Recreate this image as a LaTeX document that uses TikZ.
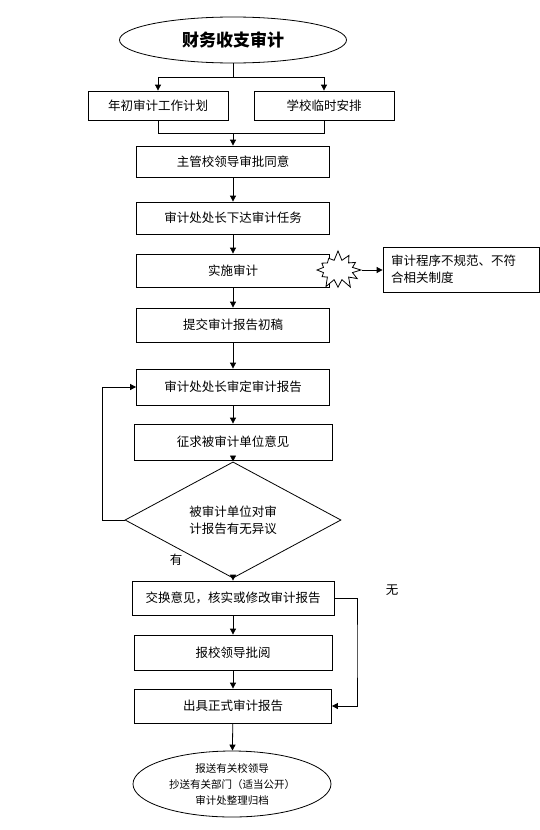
\documentclass[tikz,border=0pt]{standalone}
\usepackage{fontspec}
\setmainfont{Noto Sans CJK SC}
\usetikzlibrary{shapes.geometric,shapes.symbols,arrows.meta}
\begin{document}
\begin{tikzpicture}[x=1pt,y=-1pt,
  box/.style={draw, line width=0.8pt, inner sep=0pt, align=center, font=\fontsize{12.5}{17}\selectfont},
  arr/.style={line width=0.8pt,-{Triangle[length=6pt,width=6pt]}},
  ln/.style={line width=0.8pt}]
\useasboundingbox (0,0) rectangle (540,830);
% nodes
\node[box, ellipse, minimum width=227pt, minimum height=46pt, font=\fontsize{17}{20}\selectfont\bfseries] (top) at (233,40) {财务收支审计};
\node[box, minimum width=140pt, minimum height=29pt] (b1) at (158,105.5) {年初审计工作计划};
\node[box, minimum width=140pt, minimum height=29pt] (b2) at (324,105.5) {学校临时安排};
\node[box, minimum width=193pt, minimum height=31pt] (b3) at (233,161.5) {主管校领导审批同意};
\node[box, minimum width=193pt, minimum height=32pt] (b4) at (233,218) {审计处处长下达审计任务};
\node[box, minimum width=193pt, minimum height=33pt] (b5) at (233,270.5) {实施审计};
\node[box, minimum width=156pt, minimum height=45pt, text width=140pt, align=left] (side) at (461,269.5) {审计程序不规范、不符\\合相关制度};
\node[box, minimum width=193pt, minimum height=34pt] (b6) at (233,325) {提交审计报告初稿};
\node[box, minimum width=193pt, minimum height=36pt] (b7) at (233,387) {审计处处长审定审计报告};
\node[box, minimum width=198pt, minimum height=36pt] (b8) at (233,442) {征求被审计单位意见};
\node[box, diamond, minimum width=216pt, minimum height=86pt] (dia) at (233,520) {被审计单位对审\\计报告有无异议};
\node[box, minimum width=202pt, minimum height=34pt] (b9) at (233,598) {交换意见，核实或修改审计报告};
\node[box, minimum width=198pt, minimum height=35pt] (b10) at (233,652.5) {报校领导批阅};
\node[box, minimum width=197pt, minimum height=34pt] (b11) at (233,706) {出具正式审计报告};
\node[box, ellipse, minimum width=198pt, minimum height=66pt, font=\fontsize{10.5}{16}\selectfont] (end) at (232,784) {报送有关校领导\\抄送有关部门（适当公开）\\审计处整理归档};
\node[draw, fill=white, line width=0.8pt, starburst, starburst points=12, starburst point height=10pt, random starburst=7, minimum width=50pt, minimum height=40pt, inner sep=0pt] (star) at (338,270) {};
\node[font=\fontsize{12.5}{15}\selectfont] (you) at (176,560) {有};
\node[font=\fontsize{12.5}{15}\selectfont] (wu) at (392,590) {无};
% connectors
\coordinate (s1) at (158,77);
\coordinate (s2) at (324,77);
\coordinate (m1) at (233,133);
\coordinate (loop) at (102,520);
\coordinate (rr) at (357,650);
\draw[ln] (top.south) -- (top.south |- s1);
\draw[ln] (s1) -- (s2);
\draw[arr] (s1) -- (b1.north);
\draw[arr] (s2) -- (b2.north);
\draw[ln] (b1.south) |- (m1);
\draw[ln] (b2.south) |- (m1);
\draw[arr] (m1) -- (b3.north);
\draw[arr] (b3) -- (b4);
\draw[arr] (b4) -- (b5);
\draw[arr] (star.east) -- (star.east -| side.west);
\draw[arr] (b5) -- (b6);
\draw[arr] (b6) -- (b7);
\draw[arr] (b7) -- (b8);
\draw[arr] (b8) -- (dia);
\draw[arr] (dia.west) -- (loop) |- (b7.west);
\draw[arr] (dia) -- (b9);
\draw[arr] (b9) -- (b10);
\draw[arr] (b10) -- (b11);
\draw[arr] (b9.east) -| (rr) |- (b11.east);
\draw[arr] (b11) -- (end);
\end{tikzpicture}
\end{document}
